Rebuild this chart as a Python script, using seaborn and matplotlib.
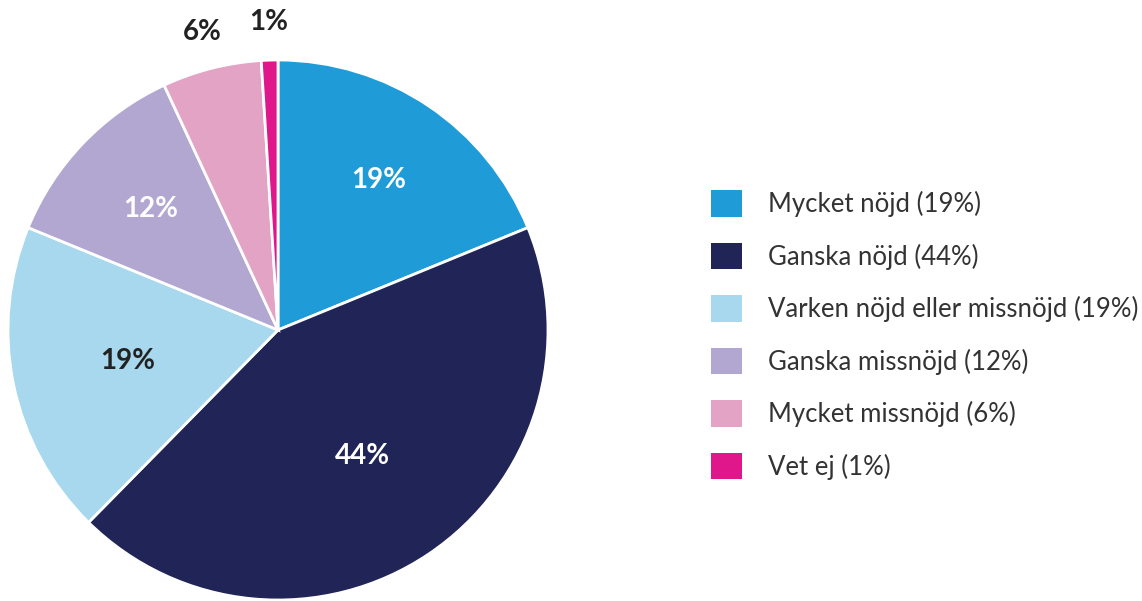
import matplotlib
matplotlib.use("Agg")
import matplotlib.pyplot as plt
import seaborn as sns
from matplotlib.patches import Patch
import numpy as np

categories = ["Mycket nöjd", "Ganska nöjd", "Varken nöjd eller missnöjd",
              "Ganska missnöjd", "Mycket missnöjd", "Vet ej"]
values = [19, 44, 19, 12, 6, 1]
pct_labels = ["19%", "44%", "19%", "12%", "6%", "1%"]
colors = ["#1f9bd7", "#202456", "#a7d8ed", "#b1a7d1", "#e3a3c4", "#e0178b"]
label_colors = ["white", "white", "#222222", "white", "#222222", "#222222"]
label_dist = [0.67, 0.56, 0.57, 0.65, 1.14, 1.14]

sns.set_theme(style="white")
plt.rcParams['font.family'] = ['Lato', 'DejaVu Sans']
palette = sns.color_palette(colors)

fig = plt.figure(figsize=(11.42, 6.01), dpi=100)
ax = fig.add_axes([8/1142, 1/601, 540/1142, 540/601])
wedges, _ = ax.pie(values, colors=palette, startangle=90, counterclock=False,
                   radius=1.0, wedgeprops=dict(edgecolor="white", linewidth=2))
for w, lab, c, d in zip(wedges, pct_labels, label_colors, label_dist):
    ang = np.deg2rad((w.theta1 + w.theta2) / 2)
    ax.text(d*np.cos(ang), d*np.sin(ang), lab, ha="center", va="center",
            fontsize=20, fontweight="bold", color=c)
ax.set_xlim(-1, 1)
ax.set_ylim(-1, 1)
ax.set_aspect("equal")
ax.axis("off")

handles = [Patch(facecolor=c, edgecolor="none", label=f"{n} ({p})")
           for n, c, p in zip(categories, palette, pct_labels)]
fig.legend(handles=handles, loc="center left", bbox_to_anchor=(711/1142, 1-335/601),
           frameon=False, fontsize=18.5, handlelength=1.2, handleheight=1.2,
           handletextpad=1.0, labelspacing=1.0, borderpad=0, borderaxespad=0,
           labelcolor="#333333")

fig.savefig("out.png", dpi=100, facecolor="white")
